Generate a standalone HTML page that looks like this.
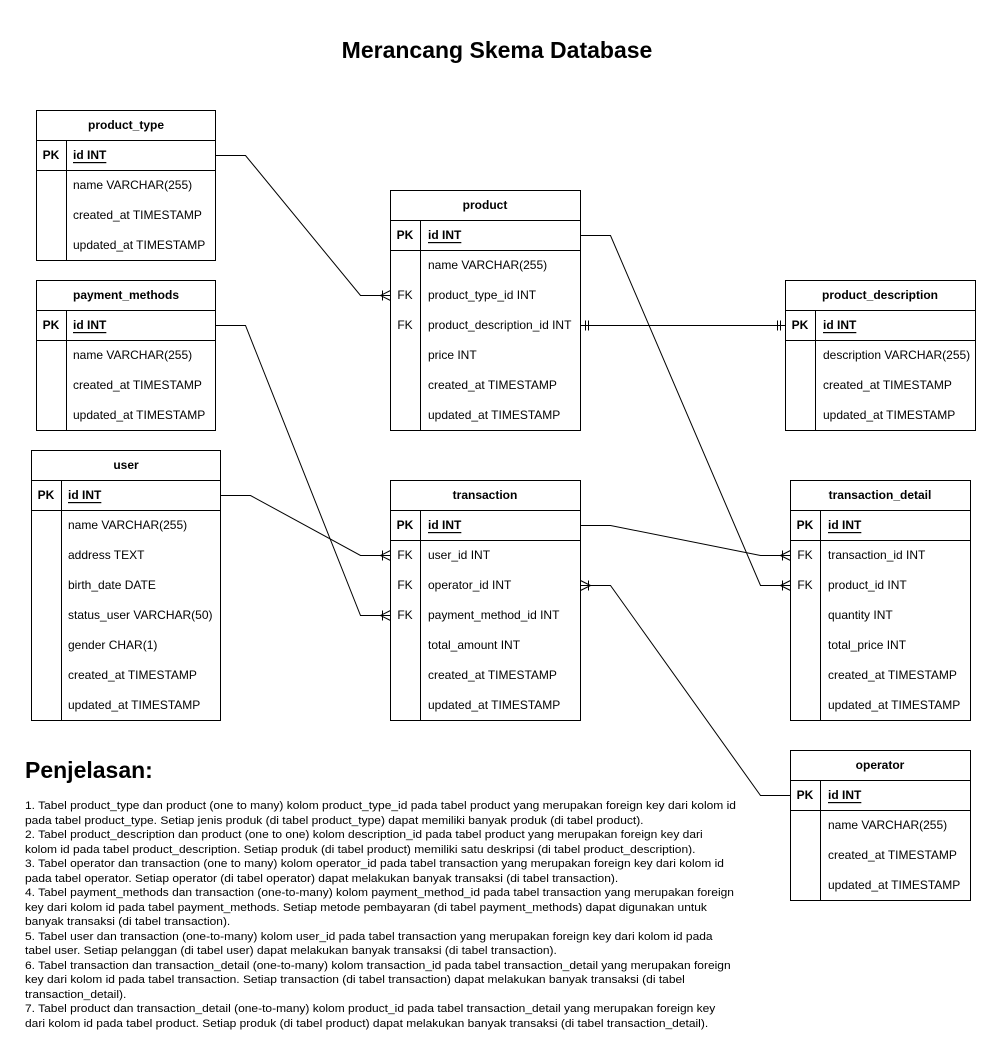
<!DOCTYPE html>
<html><head><meta charset="utf-8"><style>
body{margin:0;background:#fff;width:1001px;height:1061px;overflow:hidden;position:relative;font-family:"Liberation Sans",Arial,sans-serif}
svg{position:absolute;left:0;top:0}
text{font-family:"Liberation Sans",Arial,sans-serif;font-size:12px;fill:#000;dominant-baseline:central}
.h{font-weight:bold;text-anchor:middle}
.b{font-weight:bold}
.u{text-decoration:underline}
.c{text-anchor:middle}
#ex{position:absolute;left:25px;top:799px;font-size:11px;line-height:14.5px;white-space:nowrap;color:#000;transform:scaleX(1.09);transform-origin:0 0}
#pj{position:absolute;left:25px;top:757px;font-size:23px;font-weight:bold}
</style></head><body>
<svg width="1001" height="1061" viewBox="0 0 1001 1061">
<g fill="#fff" stroke="#000" stroke-width="1">
<rect x="36.5" y="110.5" width="179" height="150"/>
<path d="M36.5 140.5H215.5M36.5 170.5H215.5M66.5 140.5V260.5"/>
<rect x="36.5" y="280.5" width="179" height="150"/>
<path d="M36.5 310.5H215.5M36.5 340.5H215.5M66.5 310.5V430.5"/>
<rect x="31.5" y="450.5" width="189" height="270"/>
<path d="M31.5 480.5H220.5M31.5 510.5H220.5M61.5 480.5V720.5"/>
<rect x="390.5" y="190.5" width="190" height="240"/>
<path d="M390.5 220.5H580.5M390.5 250.5H580.5M420.5 220.5V430.5"/>
<rect x="785.5" y="280.5" width="190" height="150"/>
<path d="M785.5 310.5H975.5M785.5 340.5H975.5M815.5 310.5V430.5"/>
<rect x="390.5" y="480.5" width="190" height="240"/>
<path d="M390.5 510.5H580.5M390.5 540.5H580.5M420.5 510.5V720.5"/>
<rect x="790.5" y="480.5" width="180" height="240"/>
<path d="M790.5 510.5H970.5M790.5 540.5H970.5M820.5 510.5V720.5"/>
<rect x="790.5" y="750.5" width="180" height="150"/>
<path d="M790.5 780.5H970.5M790.5 810.5H970.5M820.5 780.5V900.5"/>
</g>
<g fill="none" stroke="#000" stroke-width="1">
<path d="M215.5 155.5H245.5L360.5 295.5H390.5"/>
<path d="M380.5 295.5L390.5 290.5M380.5 295.5L390.5 300.5M382.5 290.5V300.5"/>
<path d="M215.5 325.5H245.5L360.5 615.5H390.5"/>
<path d="M380.5 615.5L390.5 610.5M380.5 615.5L390.5 620.5M382.5 610.5V620.5"/>
<path d="M220.5 495.5H250.5L360.5 555.5H390.5"/>
<path d="M380.5 555.5L390.5 550.5M380.5 555.5L390.5 560.5M382.5 550.5V560.5"/>
<path d="M580.5 325.5H785.5"/>
<path d="M585.5 320.5V330.5M588.5 320.5V330.5M777.5 320.5V330.5M780.5 320.5V330.5"/>
<path d="M580.5 235.5H610.5L760.5 585.5H790.5"/>
<path d="M780.5 585.5L790.5 580.5M780.5 585.5L790.5 590.5M782.5 580.5V590.5"/>
<path d="M580.5 525.5H610.5L760.5 555.5H790.5"/>
<path d="M780.5 555.5L790.5 550.5M780.5 555.5L790.5 560.5M782.5 550.5V560.5"/>
<path d="M790.5 795.5H760.5L610.5 585.5H580.5"/>
<path d="M590.5 585.5L580.5 580.5M590.5 585.5L580.5 590.5M588.5 580.5V590.5"/>
</g>
<text x="497" y="50" class="h" style="font-size:23px">Merancang Skema Database</text>

<text x="126" y="125" class="h">product_type</text>
<text x="51" y="155" class="h">PK</text><text x="73" y="155" class="b u">id INT</text>
<text x="73" y="185">name VARCHAR(255)</text>
<text x="73" y="215">created_at TIMESTAMP</text>
<text x="73" y="245">updated_at TIMESTAMP</text>

<text x="126" y="295" class="h">payment_methods</text>
<text x="51" y="325" class="h">PK</text><text x="73" y="325" class="b u">id INT</text>
<text x="73" y="355">name VARCHAR(255)</text>
<text x="73" y="385">created_at TIMESTAMP</text>
<text x="73" y="415">updated_at TIMESTAMP</text>

<text x="126" y="465" class="h">user</text>
<text x="46" y="495" class="h">PK</text><text x="68" y="495" class="b u">id INT</text>
<text x="68" y="525">name VARCHAR(255)</text>
<text x="68" y="555">address TEXT</text>
<text x="68" y="585">birth_date DATE</text>
<text x="68" y="615">status_user VARCHAR(50)</text>
<text x="68" y="645">gender CHAR(1)</text>
<text x="68" y="675">created_at TIMESTAMP</text>
<text x="68" y="705">updated_at TIMESTAMP</text>

<text x="485" y="205" class="h">product</text>
<text x="405" y="235" class="h">PK</text><text x="428" y="235" class="b u">id INT</text>
<text x="428" y="265">name VARCHAR(255)</text>
<text x="405" y="295" class="c">FK</text><text x="428" y="295">product_type_id INT</text>
<text x="405" y="325" class="c">FK</text><text x="428" y="325">product_description_id INT</text>
<text x="428" y="355">price INT</text>
<text x="428" y="385">created_at TIMESTAMP</text>
<text x="428" y="415">updated_at TIMESTAMP</text>

<text x="880" y="295" class="h">product_description</text>
<text x="800" y="325" class="h">PK</text><text x="823" y="325" class="b u">id INT</text>
<text x="823" y="355">description VARCHAR(255)</text>
<text x="823" y="385">created_at TIMESTAMP</text>
<text x="823" y="415">updated_at TIMESTAMP</text>

<text x="485" y="495" class="h">transaction</text>
<text x="405" y="525" class="h">PK</text><text x="428" y="525" class="b u">id INT</text>
<text x="405" y="555" class="c">FK</text><text x="428" y="555">user_id INT</text>
<text x="405" y="585" class="c">FK</text><text x="428" y="585">operator_id INT</text>
<text x="405" y="615" class="c">FK</text><text x="428" y="615">payment_method_id INT</text>
<text x="428" y="645">total_amount INT</text>
<text x="428" y="675">created_at TIMESTAMP</text>
<text x="428" y="705">updated_at TIMESTAMP</text>

<text x="880" y="495" class="h">transaction_detail</text>
<text x="805" y="525" class="h">PK</text><text x="828" y="525" class="b u">id INT</text>
<text x="805" y="555" class="c">FK</text><text x="828" y="555">transaction_id INT</text>
<text x="805" y="585" class="c">FK</text><text x="828" y="585">product_id INT</text>
<text x="828" y="615">quantity INT</text>
<text x="828" y="645">total_price INT</text>
<text x="828" y="675">created_at TIMESTAMP</text>
<text x="828" y="705">updated_at TIMESTAMP</text>

<text x="880" y="765" class="h">operator</text>
<text x="805" y="795" class="h">PK</text><text x="828" y="795" class="b u">id INT</text>
<text x="828" y="825">name VARCHAR(255)</text>
<text x="828" y="855">created_at TIMESTAMP</text>
<text x="828" y="885">updated_at TIMESTAMP</text>
</svg>
<div id="pj">Penjelasan:</div>
<div id="ex">1. Tabel product_type dan product (one to many) kolom product_type_id pada tabel product yang merupakan foreign key dari kolom id<br>
pada tabel product_type. Setiap jenis produk (di tabel product_type) dapat memiliki banyak produk (di tabel product).<br>
2. Tabel product_description dan product (one to one) kolom description_id pada tabel product yang merupakan foreign key dari<br>
kolom id pada tabel product_description. Setiap produk (di tabel product) memiliki satu deskripsi (di tabel product_description).<br>
3. Tabel operator dan transaction (one to many) kolom operator_id pada tabel transaction yang merupakan foreign key dari kolom id<br>
pada tabel operator. Setiap operator (di tabel operator) dapat melakukan banyak transaksi (di tabel transaction).<br>
4. Tabel payment_methods dan transaction (one-to-many) kolom payment_method_id pada tabel transaction yang merupakan foreign<br>
key dari kolom id pada tabel payment_methods. Setiap metode pembayaran (di tabel payment_methods) dapat digunakan untuk<br>
banyak transaksi (di tabel transaction).<br>
5. Tabel user dan transaction (one-to-many) kolom user_id pada tabel transaction yang merupakan foreign key dari kolom id pada<br>
tabel user. Setiap pelanggan (di tabel user) dapat melakukan banyak transaksi (di tabel transaction).<br>
6. Tabel transaction dan transaction_detail (one-to-many) kolom transaction_id pada tabel transaction_detail yang merupakan foreign<br>
key dari kolom id pada tabel transaction. Setiap transaction (di tabel transaction) dapat melakukan banyak transaksi (di tabel<br>
transaction_detail).<br>
7. Tabel product dan transaction_detail (one-to-many) kolom product_id pada tabel transaction_detail yang merupakan foreign key<br>
dari kolom id pada tabel product. Setiap produk (di tabel product) dapat melakukan banyak transaksi (di tabel transaction_detail).</div>
</body></html>
